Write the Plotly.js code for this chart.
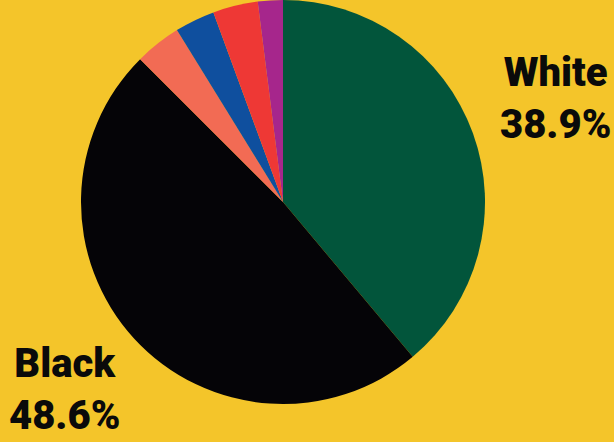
<!DOCTYPE html>
<html><head><meta charset="utf-8">
<script src="https://cdn.plot.ly/plotly-3.0.1.min.js"></script>
<style>html,body{margin:0;padding:0;background:#f4c52a;}#chart{width:614px;height:442px;}</style>
</head><body><div id="chart"></div>
<script>
const categories = ["White", "Black", "Other A", "Other B", "Other C", "Other D"];
const shares = [38.9, 48.6, 3.7, 3.2, 3.6, 2.0];
const sliceColors = ["#02553b", "#050407", "#f26b54", "#0f4f9e", "#ee3835", "#a6268c"];
const labelled = ["White", "Black"];

const trace = {
  type: "pie",
  labels: categories,
  values: shares,
  sort: false,
  direction: "clockwise",
  rotation: 0,
  marker: {colors: sliceColors, line: {width: 0}},
  textinfo: "none",
  hoverinfo: "none",
  showlegend: false,
  domain: {x: [81/614, 485/614], y: [1 - 404/442, 1]}
};

const labelPos = {White: [555/614, 1 - 99/442], Black: [64/614, 1 - 389/442]};
const annotations = labelled.map(name => {
  const i = categories.indexOf(name);
  return {
    xref: "paper", yref: "paper",
    x: labelPos[name][0], y: labelPos[name][1],
    xanchor: "center", yanchor: "middle",
    text: name + "<br>" + shares[i].toFixed(1) + "%",
    showarrow: false, align: "center", borderpad: 0,
    font: {family: "Roboto, 'Liberation Sans', sans-serif", size: 40, weight: 900, color: "#0a0a0a"}
  };
});

Plotly.newPlot("chart", [trace], {
  width: 614, height: 442,
  margin: {l: 0, r: 0, t: 0, b: 0},
  paper_bgcolor: "#f4c52a",
  plot_bgcolor: "#f4c52a",
  annotations: annotations
}, {displayModeBar: false, staticPlot: true});
</script></body></html>
